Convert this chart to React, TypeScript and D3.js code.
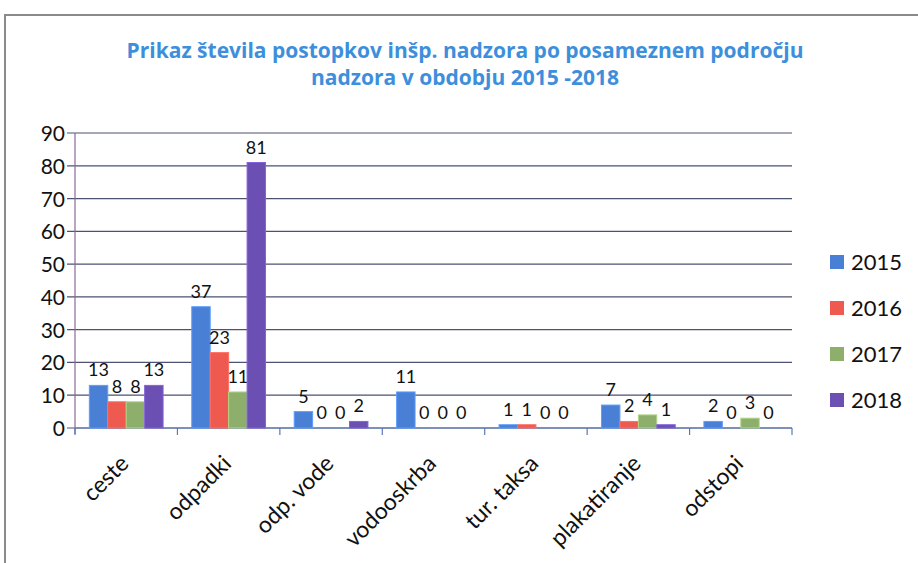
import { useEffect, useRef } from "react";
import * as d3 from "d3";

const categories = ["ceste", "odpadki", "odp. vode", "vodooskrba", "tur. taksa", "plakatiranje", "odstopi"];
const years = ["2015", "2016", "2017", "2018"];
const values2015 = [13, 37, 5, 11, 1, 7, 2];
const values2016 = [8, 23, 0, 0, 1, 2, 0];
const values2017 = [8, 11, 0, 0, 0, 4, 3];
const values2018 = [13, 81, 2, 0, 0, 1, 0];
const yTicks = [0, 10, 20, 30, 40, 50, 60, 70, 80, 90];
const colors = ["#4a7fd6", "#ee5a50", "#8eae6c", "#6b4fb2"];
const titleLines = [
    "Prikaz števila postopkov inšp. nadzora po posameznem področju",
    "nadzora v obdobju 2015 -2018",
];

const width = 918;
const height = 563;
const margin = { top: 133, right: 126, bottom: 135, left: 75 };
const font = "Lato, 'Open Sans', sans-serif";

export default function App() {
    const svgRef = useRef<SVGSVGElement | null>(null);

    useEffect(() => {
        const svg = d3.select(svgRef.current);
        svg.selectAll("*").remove();

        const series = [values2015, values2016, values2017, values2018];
        const x0 = d3.scaleBand()
            .domain(categories)
            .range([margin.left, width - margin.right])
            .paddingInner(0.28)
            .paddingOuter(0.14);
        const x1 = d3.scaleBand()
            .domain(years)
            .range([0, x0.bandwidth()]);
        const y = d3.scaleLinear()
            .domain([0, 90])
            .range([height - margin.bottom, margin.top]);

        // frame
        svg.append("path")
            .attr("d", `M5,${height} L5,15 L${width},15`)
            .attr("fill", "none")
            .attr("stroke", "#8a8a8a")
            .attr("stroke-width", 2);

        // title
        svg.append("g").selectAll("text")
            .data(titleLines)
            .join("text")
            .attr("x", 465)
            .attr("y", (_, i) => 58 + i * 27)
            .attr("text-anchor", "middle")
            .style("font-family", "'Open Sans', sans-serif")
            .style("font-weight", "bold")
            .style("font-size", "21px")
            .style("fill", "#3d8fdc")
            .text(d => d);

        // grid
        svg.append("g").selectAll("line")
            .data(yTicks)
            .join("line")
            .attr("x1", margin.left - 8)
            .attr("x2", width - margin.right)
            .attr("y1", d => y(d))
            .attr("y2", d => y(d))
            .attr("stroke", "#4b5272")
            .attr("stroke-width", 1.2);

        svg.append("line")
            .attr("x1", margin.left).attr("x2", margin.left)
            .attr("y1", y(90)).attr("y2", y(0) + 6)
            .attr("stroke", "#8a6a9a")
            .attr("stroke-width", 1.2);

        svg.append("g").selectAll("text")
            .data(yTicks)
            .join("text")
            .attr("x", margin.left - 10)
            .attr("y", d => y(d) + 8)
            .attr("text-anchor", "end")
            .style("font-family", font)
            .style("font-size", "21px")
            .style("fill", "#111")
            .text(d => d);

        // category ticks
        const step = x0.step();
        const tickXs = d3.range(categories.length + 1).map(i => margin.left + i * step);
        svg.append("g").selectAll("line")
            .data(tickXs)
            .join("line")
            .attr("x1", d => d).attr("x2", d => d)
            .attr("y1", y(0)).attr("y2", y(0) + 7)
            .attr("stroke", "#5a79b8")
            .attr("stroke-width", 1.2);
        svg.append("line")
            .attr("x1", margin.left).attr("x2", width - margin.right)
            .attr("y1", y(0)).attr("y2", y(0))
            .attr("stroke", "#5a79b8")
            .attr("stroke-width", 1.2);

        // bars
        const groups = svg.append("g").selectAll("g")
            .data(categories)
            .join("g")
            .attr("transform", d => `translate(${x0(d)},0)`);

        groups.each(function (cat, ci) {
            const g = d3.select(this);
            years.forEach((yr, si) => {
                const v = series[si][ci];
                const bx = x1(yr) ?? 0;
                if (v > 0) {
                    g.append("rect")
                        .attr("x", bx)
                        .attr("y", y(v))
                        .attr("width", x1.bandwidth())
                        .attr("height", y(0) - y(v))
                        .attr("fill", colors[si])
                        .attr("stroke", d3.color(colors[si])!.brighter(0.6).formatHex())
                        .attr("stroke-width", 1);
                }
                g.append("text")
                    .attr("x", bx + x1.bandwidth() / 2)
                    .attr("y", y(v) - 9)
                    .attr("text-anchor", "middle")
                    .style("font-family", font)
                    .style("font-size", "18px")
                    .style("fill", "#111")
                    .text(v);
            });
        });

        // category labels
        svg.append("g").selectAll("text")
            .data(categories)
            .join("text")
            .attr("transform", d => `translate(${(x0(d) ?? 0) + x0.bandwidth() / 2 + 4},${y(0) + 37}) rotate(-45)`)
            .attr("text-anchor", "end")
            .style("font-family", font)
            .style("font-size", "23px")
            .style("fill", "#111")
            .text(d => d);

        // legend
        const legend = svg.append("g").selectAll("g")
            .data(years)
            .join("g")
            .attr("transform", (_, i) => `translate(830,${262 + i * 46})`);
        legend.append("rect")
            .attr("x", 0).attr("y", -7)
            .attr("width", 14).attr("height", 14)
            .attr("fill", (_, i) => colors[i]);
        legend.append("text")
            .attr("x", 21).attr("y", 8)
            .style("font-family", font)
            .style("font-size", "22px")
            .style("fill", "#111")
            .text(d => d);
    }, []);

    return (
        <svg ref={svgRef} width={width} height={height}
            style={{ position: "absolute", left: 0, top: 0, background: "white" }} />
    );
}
